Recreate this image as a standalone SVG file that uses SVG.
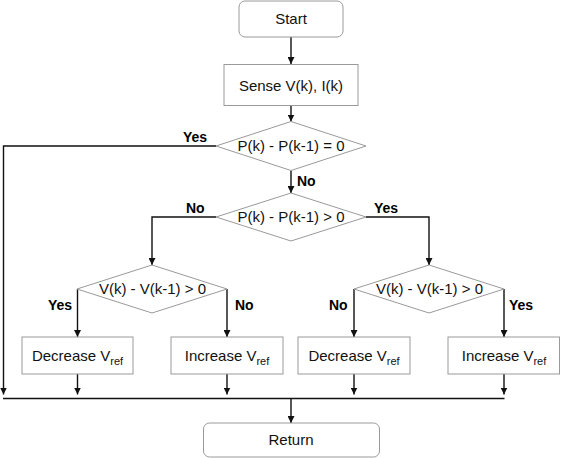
<svg xmlns="http://www.w3.org/2000/svg" width="561" height="458" viewBox="0 0 561 458">
<style>
.n{fill:#fff;stroke:#9a9a9a;stroke-width:1}
.t{font-family:"Liberation Sans",Arial,sans-serif;font-size:15px;fill:#111;text-anchor:middle}
.s{font-size:11px}
.l{font-family:"Liberation Sans",Arial,sans-serif;font-size:14px;font-weight:bold;fill:#000}
.c{fill:none;stroke:#111;stroke-width:1.4}
.a{marker-end:url(#ah)}
</style>
<defs>
<marker id="ah" markerUnits="userSpaceOnUse" markerWidth="8" markerHeight="7" refX="7" refY="3.5" orient="auto">
<path d="M0,0 L7,3.5 L0,7 z" fill="#111"/>
</marker>
</defs>
<rect width="561" height="458" fill="#fff"/>
<g id="connectors">
<path class="c a" d="M291,37 V64"/>
<path class="c a" d="M291,105.5 V121.5"/>
<path class="c a" d="M291,170.5 V193"/>
<path class="c a" d="M216,146 H3.5 V394.5"/>
<path class="c a" d="M216,217 H152 V265"/>
<path class="c a" d="M366,217 H429 V265"/>
<path class="c a" d="M77.5,289 V337"/>
<path class="c a" d="M227,289 V337"/>
<path class="c a" d="M354,289 V337"/>
<path class="c a" d="M504,289 V337"/>
<path class="c a" d="M77.5,374 V394.5"/>
<path class="c a" d="M227,374 V394.5"/>
<path class="c a" d="M354,374 V394.5"/>
<path class="c a" d="M504,374 V394.5"/>
<path class="c" d="M3,398.5 H504.5"/>
<path class="c a" d="M291,398.5 V423"/>
<text class="l" x="183" y="141.5">Yes</text>
<text class="l" x="297" y="186">No</text>
<text class="l" x="186" y="213">No</text>
<text class="l" x="374" y="213">Yes</text>
<text class="l" x="48" y="310">Yes</text>
<text class="l" x="235" y="310">No</text>
<text class="l" x="329" y="310">No</text>
<text class="l" x="509" y="310">Yes</text>
</g>
<g id="start">
<rect class="n" x="239" y="1" width="104" height="36" rx="6"/>
<text class="t" x="291" y="24">Start</text>
</g>
<g id="sense">
<rect class="n" x="224" y="64.5" width="134" height="41"/>
<text class="t" x="291" y="90.5">Sense V(k), I(k)</text>
</g>
<g id="d1">
<polygon class="n" points="291,121.5 366,146 291,170.5 216,146"/>
<text class="t" x="291" y="151">P(k) - P(k-1) = 0</text>
</g>
<g id="d2">
<polygon class="n" points="291,193 366,217 291,241 216,217"/>
<text class="t" x="291" y="222">P(k) - P(k-1) &gt; 0</text>
</g>
<g id="d3">
<polygon class="n" points="152,265 227,289 152,313 77,289"/>
<text class="t" x="152.5" y="294">V(k) - V(k-1) &gt; 0</text>
</g>
<g id="d4">
<polygon class="n" points="429,265 504,289 429,313 354,289"/>
<text class="t" x="429.5" y="294">V(k) - V(k-1) &gt; 0</text>
</g>
<g id="b1">
<rect class="n" x="22" y="337" width="111" height="37"/>
<text class="t" x="77.5" y="361">Decrease V<tspan class="s" dy="4">ref</tspan></text>
</g>
<g id="b2">
<rect class="n" x="171" y="337" width="112" height="37"/>
<text class="t" x="227" y="361">Increase V<tspan class="s" dy="4">ref</tspan></text>
</g>
<g id="b3">
<rect class="n" x="298" y="337" width="112" height="37"/>
<text class="t" x="354" y="361">Decrease V<tspan class="s" dy="4">ref</tspan></text>
</g>
<g id="b4">
<rect class="n" x="448" y="337" width="111.5" height="37"/>
<text class="t" x="504" y="361">Increase V<tspan class="s" dy="4">ref</tspan></text>
</g>
<g id="return">
<rect class="n" x="203.5" y="423" width="176" height="34" rx="6"/>
<text class="t" x="291" y="445">Return</text>
</g>
</svg>
